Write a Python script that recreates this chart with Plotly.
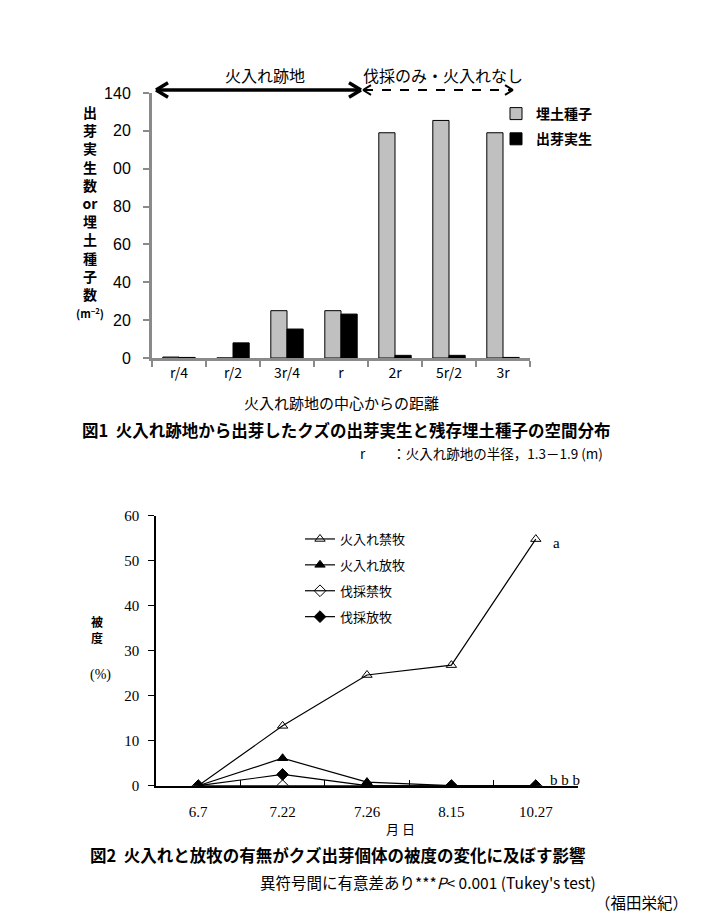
import plotly.graph_objects as go

W, H = 705, 914

# ---- Figure 1 data ----
dist_cats = ["r/4", "r/2", "3r/4", "r", "2r", "5r/2", "3r"]
seedbank = [0.5, 0, 25, 25, 119, 125.5, 119]      # 埋土種子
seedlings = [0.3, 8, 15.3, 23.2, 1.4, 1.4, 0.3]   # 出芽実生
y1_ticks = [0, 20, 40, 60, 80, 100, 120, 140]
y1_ticktext = ["0", "20", "40", "60", "80", "00", "20", "140"]

# ---- Figure 2 data ----
dates = ["6.7", "7.22", "7.26", "8.15", "10.27"]
burn_nograze = [0, 13.3, 24.6, 26.8, 54.8]   # 火入れ禁牧
burn_graze = [0, 6.1, 0.8, 0, 0]             # 火入れ放牧
cut_nograze = [0, 0, 0, 0, 0]                # 伐採禁牧
cut_graze = [0, 2.5, 0, 0, 0]                # 伐採放牧
y2_ticks = [0, 10, 20, 30, 40, 50, 60]


def px(x):
    return x / W


def py(y):
    return 1 - y / H


SANS = "Noto Sans CJK JP, Liberation Sans, sans-serif"
SERIF = "Liberation Serif, Noto Sans CJK JP, serif"
GRAY = "#8a8a8a"

fig = go.Figure()

fig.add_trace(go.Bar(x=dist_cats, y=seedbank, name="埋土種子",
                     marker=dict(color="#c0c0c0", line=dict(color="black", width=1)),
                     xaxis="x", yaxis="y", legend="legend", legendgroup="g1"))
fig.add_trace(go.Bar(x=dist_cats, y=seedlings, name="出芽実生",
                     marker=dict(color="black", line=dict(color="black", width=1)),
                     xaxis="x", yaxis="y", legend="legend", legendgroup="g2"))

series2 = [
    ("火入れ禁牧", burn_nograze, "triangle-up-open"),
    ("火入れ放牧", burn_graze, "triangle-up"),
    ("伐採禁牧", cut_nograze, "diamond-open"),
    ("伐採放牧", cut_graze, "diamond"),
]
for i, (name, vals, sym) in enumerate(series2):
    fig.add_trace(go.Scatter(x=dates, y=vals, name=name, mode="lines+markers",
                             line=dict(color="black", width=1.2),
                             marker=dict(symbol=sym, size=9, color="black",
                                         line=dict(color="black", width=1)),
                             xaxis="x2", yaxis="y2", legend="legend2",
                             legendgroup="s%d" % i))

fig.update_layout(
    width=W, height=H, margin=dict(l=0, r=0, t=0, b=0, pad=0, autoexpand=False),
    paper_bgcolor="white", plot_bgcolor="white",
    barmode="group", bargap=0.4, bargroupgap=0,
    font=dict(family=SANS, color="black"),
    xaxis=dict(domain=[px(152), px(530)], anchor="y", type="category",
               range=[-0.5, 6.5], automargin=False,
               showline=True, linecolor=GRAY, linewidth=3,
               ticks="outside", tickson="boundaries", ticklen=6, tickcolor=GRAY, tickwidth=2,
               tickfont=dict(family=SANS, size=14), showgrid=False, zeroline=False),
    yaxis=dict(domain=[py(358), py(93)], anchor="x", range=[0, 140], automargin=False,
               tickvals=y1_ticks, ticktext=y1_ticktext,
               showline=True, linecolor=GRAY, linewidth=3,
               ticks="outside", ticklen=6, tickcolor=GRAY, tickwidth=2,
               tickfont=dict(family="Liberation Sans, sans-serif", size=16),
               ticklabelstandoff=9,
               showgrid=False, zeroline=False),
    xaxis2=dict(domain=[px(156), px(578)], anchor="y2", type="category",
                range=[-0.5, 4.5], automargin=False,
                showline=True, linecolor="black", linewidth=1.5,
                ticks="inside", tickson="boundaries", ticklen=6, tickcolor="black", tickwidth=1,
                tickfont=dict(family=SERIF, size=15), ticklabelstandoff=12,
                showgrid=False, zeroline=False),
    yaxis2=dict(domain=[py(785.7), py(515.7)], anchor="x2", range=[0, 60], automargin=False,
                tickvals=y2_ticks, showline=True, linecolor="black", linewidth=1.5,
                ticks="outside", ticklen=6, tickcolor="black", tickwidth=1,
                tickfont=dict(family=SERIF, size=15), ticklabelstandoff=6,
                showgrid=False, zeroline=False),
    legend=dict(x=px(496), y=py(98), xanchor="left", yanchor="top",
                font=dict(family=SANS, size=14, color="black", weight="bold"),
                bgcolor="rgba(0,0,0,0)", itemwidth=30, tracegroupgap=4),
    legend2=dict(x=px(300), y=py(524), xanchor="left", yanchor="top",
                 font=dict(family=SANS, size=13, color="black"),
                 bgcolor="rgba(0,0,0,0)", itemwidth=30, tracegroupgap=6),
)

ann = []


def text(x, y, s, size, family=SANS, xanchor="center", color="black", weight="normal"):
    ann.append(dict(x=px(x), y=py(y), xref="paper", yref="paper", text=s,
                    showarrow=False, xanchor=xanchor, yanchor="middle",
                    font=dict(family=family, size=size, color=color, weight=weight)))


# Figure 1 texts
text(265, 75, "火入れ跡地", 16)
text(443, 75, "伐採のみ・火入れなし", 16)
ytitle1 = "<br>".join(list("出芽実生数")) + "<br>or<br>" + "<br>".join(list("埋土種子数")) + \
          "<br><span style='font-size:11px'>(m<sup>−2</sup>)</span>"
text(90, 211, ytitle1, 14, weight="bold")
text(341, 402, "火入れ跡地の中心からの距離", 15)
text(80, 430, "<b>図1  火入れ跡地から出芽したクズの出芽実生と残存埋土種子の空間分布</b>", 16.5, xanchor="left")
text(605, 453, "r　　：火入れ跡地の半径，1.3－1.9 (m)", 13.5, xanchor="right")

# Figure 2 texts
text(97, 629, "被<br>度", 12, weight="bold")
text(100, 675, "(%)", 14, family=SERIF)
text(551, 543, "a", 15, family=SERIF, xanchor="left")
text(548, 780, "b b b", 15, family=SERIF, xanchor="left")
text(400, 828, "月 日", 13)
text(88, 855, "<b>図2  火入れと放牧の有無がクズ出芽個体の被度の変化に及ぼす影響</b>", 16.5, xanchor="left")
text(598, 882, "異符号間に有意差あり***<i>P</i>< 0.001 (Tukey's test)", 15.5, xanchor="right")
text(690, 902, "（福田栄紀）", 15.5, xanchor="right")

fig.update_layout(annotations=ann)

# Arrows (decorations)
shapes = []


def seg(x0, y0, x1, y1, width, dash="solid"):
    shapes.append(dict(type="line", xref="paper", yref="paper",
                       x0=px(x0), y0=py(y0), x1=px(x1), y1=py(y1),
                       line=dict(color="black", width=width, dash=dash)))


def head(xtip, y, direction, size, width):
    xb = xtip - direction * size
    seg(xb, y - size * 0.6, xtip, y, width)
    seg(xb, y + size * 0.6, xtip, y, width)


seg(157, 90, 360, 90, 3.5)
head(156, 90, -1, 12, 3.5)
head(361, 90, 1, 12, 3.5)
seg(364, 90, 512, 90, 2, dash="dash")
head(363, 90, -1, 8, 2)
head(513, 90, 1, 8, 2)

fig.update_layout(shapes=shapes)

post = (
    "document.documentElement.style.cssText='margin:0;padding:0;overflow:hidden;height:914px;';"
    "document.body.style.cssText='margin:0;padding:0;overflow:hidden;height:914px;';"
    "var gd=document.querySelector('.plotly-graph-div');"
    "gd.style.position='fixed';gd.style.top='0px';gd.style.left='0px';"
)
fig.write_html("out.html", config={"displayModeBar": False}, post_script=post)
